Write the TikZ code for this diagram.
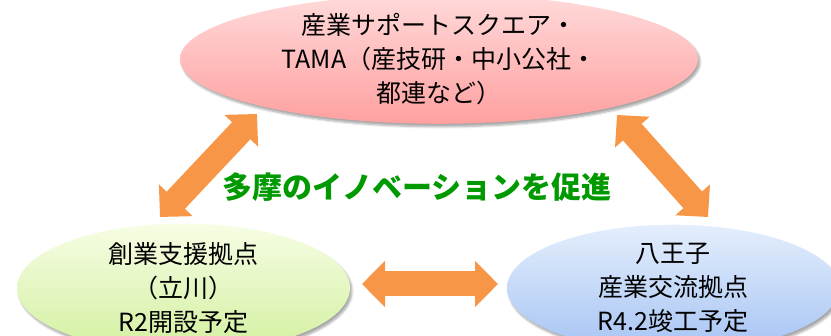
\documentclass[tikz,border=0pt]{standalone}
\usepackage{fontspec}
\setmainfont{Noto Sans CJK JP}
\usetikzlibrary{shapes.geometric,arrows.meta,shadows.blur}
\definecolor{arrowor}{HTML}{F79646}
\definecolor{innov}{HTML}{009A00}
\definecolor{pinktop}{HTML}{FFDADA}
\definecolor{pinkbot}{HTML}{FFA0A0}
\definecolor{greentop}{HTML}{F6FDE4}
\definecolor{greenbot}{HTML}{D3F0A0}
\definecolor{bluetop}{HTML}{E4EEFC}
\definecolor{bluebot}{HTML}{A6C4F4}
\tikzset{
  bubble/.style={ellipse, inner sep=0pt, align=center,
    font=\fontsize{25pt}{34pt}\selectfont,
    blur shadow={shadow xshift=2pt, shadow yshift=-3pt, shadow blur steps=6, shadow opacity=35}},
  blockarrow/.style={arrowor, line width=25pt,
    {Triangle[width=45pt,length=23pt]}-{Triangle[width=45pt,length=23pt]}},
}
\begin{document}
\begin{tikzpicture}[x=1pt,y=-1pt]
\useasboundingbox (0,0) rectangle (831,336);
\clip (0,0) rectangle (831,336);
\node[bubble, minimum width=518pt, minimum height=112pt, top color=pinktop, bottom color=pinkbot] (sq) at (439,59)
  {産業サポートスクエア・\\TAMA（産技研・中小公社・\\都連など）};
\node[bubble, minimum width=333pt, minimum height=114pt, top color=greentop, bottom color=greenbot] (tc) at (183.5,288)
  {創業支援拠点\\（立川）\\R2開設予定};
\node[bubble, minimum width=332pt, minimum height=116pt, top color=bluetop, bottom color=bluebot] (hc) at (673,288)
  {八王子\\産業交流拠点\\R4.2竣工予定};
\node[font=\bfseries\fontsize{30pt}{34pt}\selectfont, text=innov] (msg) at (417,187) {多摩のイノベーションを促進};
\coordinate (la) at (160,217);
\coordinate (lb) at (257,114);
\coordinate (ra) at (617,115);
\coordinate (rb) at (708,217);
\coordinate (ha) at (362,284);
\coordinate (hb) at (498,284);
\draw[blockarrow] (la) -- (lb);
\draw[blockarrow] (ra) -- (rb);
\draw[blockarrow] (ha) -- (hb);
\end{tikzpicture}
\end{document}
